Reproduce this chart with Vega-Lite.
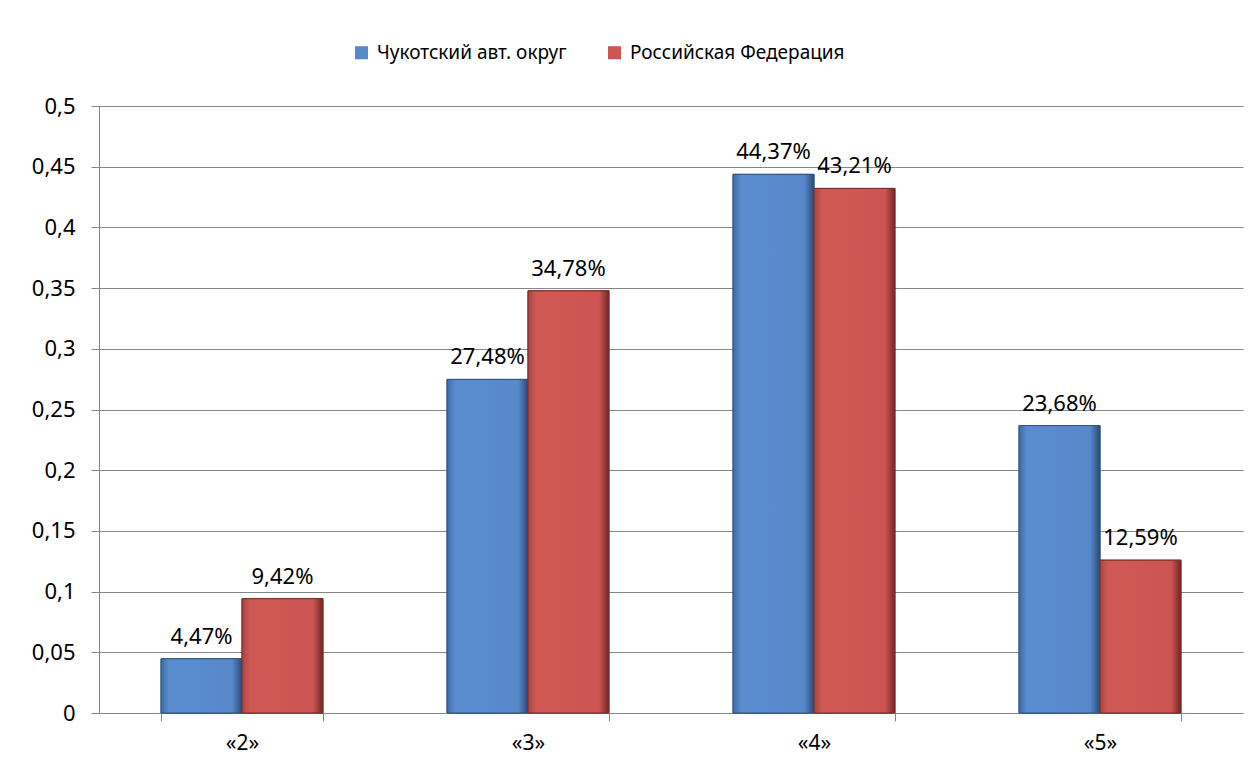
{
  "$schema": "https://vega.github.io/schema/vega-lite/v6.json",
  "width": 1144,
  "height": 607,
  "autosize": {"type": "none"},
  "padding": {"left": 99, "top": 106, "right": 17, "bottom": 58},
  "background": "white",
  "config": {
    "locale": {"number": {"decimal": ",", "thousands": " ", "grouping": [3], "currency": ["", " ₽"]}},
    "view": {"stroke": null},
    "font": "Noto Sans"
  },
  "data": {
    "values": [
      {"grade": "«2»", "region": "Чукотский авт. округ", "share": 0.0447},
      {"grade": "«2»", "region": "Российская Федерация", "share": 0.0942},
      {"grade": "«3»", "region": "Чукотский авт. округ", "share": 0.2748},
      {"grade": "«3»", "region": "Российская Федерация", "share": 0.3478},
      {"grade": "«4»", "region": "Чукотский авт. округ", "share": 0.4437},
      {"grade": "«4»", "region": "Российская Федерация", "share": 0.4321},
      {"grade": "«5»", "region": "Чукотский авт. округ", "share": 0.2368},
      {"grade": "«5»", "region": "Российская Федерация", "share": 0.1259}
    ]
  },
  "encoding": {
    "x": {
      "field": "grade",
      "type": "nominal",
      "sort": ["«2»", "«3»", "«4»", "«5»"],
      "scale": {"paddingInner": 0.434, "paddingOuter": 0.217},
      "axis": {
        "title": null,
        "labelAngle": 0,
        "labelFontSize": 21,
        "labelColor": "#000000",
        "labelPadding": 11,
        "tickBand": "extent",
        "tickSize": 8,
        "tickColor": "#868686",
        "domainColor": "#868686",
        "grid": false
      }
    },
    "xOffset": {
      "field": "region",
      "type": "nominal",
      "sort": ["Чукотский авт. округ", "Российская Федерация"],
      "scale": {"paddingInner": 0, "paddingOuter": 0}
    },
    "y": {
      "field": "share",
      "type": "quantitative",
      "scale": {"domain": [0, 0.5], "nice": false},
      "axis": {
        "title": null,
        "values": [0, 0.05, 0.1, 0.15, 0.2, 0.25, 0.3, 0.35, 0.4, 0.45, 0.5],
        "format": ".2~f",
        "labelFontSize": 22,
        "labelColor": "#000000",
        "labelPadding": 16,
        "tickSize": 8,
        "tickColor": "#868686",
        "domainColor": "#868686",
        "gridColor": "#868686",
        "gridWidth": 1
      }
    }
  },
  "layer": [
    {
      "mark": {"type": "bar", "strokeWidth": 1},
      "encoding": {
        "color": {
          "field": "region",
          "type": "nominal",
          "sort": ["Чукотский авт. округ", "Российская Федерация"],
          "scale": {"domain": ["Чукотский авт. округ", "Российская Федерация"], "range": ["#5688CA", "#CC5452"]},
          "legend": {
            "title": null,
            "orient": "none",
            "direction": "horizontal",
            "legendX": 253,
            "legendY": -63,
            "padding": 0,
            "symbolType": "square",
            "symbolSize": 170,
            "symbolStrokeWidth": 0,
            "symbolOpacity": 1,
            "labelFontSize": 19,
            "labelColor": "#000000",
            "labelLimit": 400,
            "labelOffset": 6,
            "columnPadding": 38
          }
        },
        "stroke": {
          "field": "region",
          "type": "nominal",
          "scale": {"domain": ["Чукотский авт. округ", "Российская Федерация"], "range": ["#2E5383", "#7A2C2A"]},
          "legend": null
        }
      }
    },
    {
      "transform": [{"filter": "datum.region === 'Чукотский авт. округ'"}],
      "mark": {
        "type": "bar",
        "stroke": "#2E5383",
        "strokeWidth": 1,
        "color": {
          "gradient": "linear", "x1": 0, "x2": 1, "y1": 0, "y2": 0,
          "stops": [
            {"offset": 0, "color": "#3E6BA5"},
            {"offset": 0.1, "color": "#5A8DD0"},
            {"offset": 0.88, "color": "#5688CA"},
            {"offset": 1, "color": "#2A4A75"}
          ]
        }
      }
    },
    {
      "transform": [{"filter": "datum.region === 'Российская Федерация'"}],
      "mark": {
        "type": "bar",
        "stroke": "#7A2C2A",
        "strokeWidth": 1,
        "color": {
          "gradient": "linear", "x1": 0, "x2": 1, "y1": 0, "y2": 0,
          "stops": [
            {"offset": 0, "color": "#A84542"},
            {"offset": 0.1, "color": "#D05855"},
            {"offset": 0.88, "color": "#CC5452"},
            {"offset": 1, "color": "#6E2725"}
          ]
        }
      }
    },
    {
      "mark": {"type": "text", "dy": -22, "baseline": "middle", "align": "center", "fontSize": 22, "color": "#000000"},
      "encoding": {
        "text": {"field": "share", "type": "quantitative", "format": ".2%"}
      }
    }
  ]
}
